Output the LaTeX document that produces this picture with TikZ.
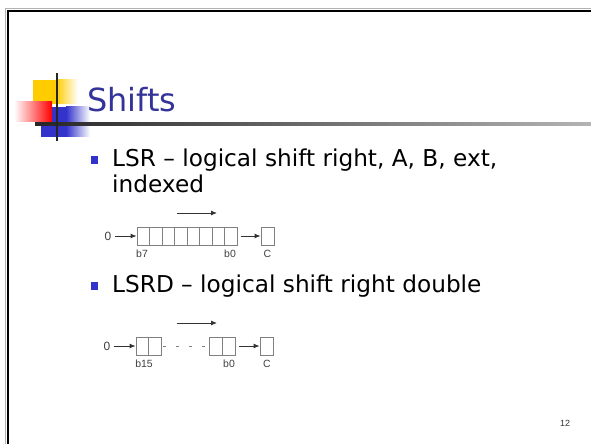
\documentclass[tikz,border=0pt]{standalone}
\usepackage{fontspec}
\setmainfont{DejaVu Sans}
\newfontfamily\smallsans{Liberation Sans}
\usetikzlibrary{arrows.meta}
\definecolor{titleblue}{HTML}{333399}
\definecolor{logoyellow}{HTML}{FFCC00}
\definecolor{logored}{HTML}{FF0000}
\definecolor{logoblue}{HTML}{3333CC}
\definecolor{boxgray}{HTML}{808080}
\tikzset{
  cellbox/.style={draw=boxgray, line width=0.9pt},
  sarrow/.style={-{Latex[length=6pt,width=5pt]}, line width=0.9pt, draw=black!80},
  blabel/.style={font=\smallsans\fontsize{10.5}{10.5}\selectfont, text=black!75, inner sep=0pt},
  zlabel/.style={font=\smallsans\fontsize{12}{12}\selectfont, text=black!75, inner sep=0pt},
  bodytext/.style={font=\fontsize{23.3}{28}\selectfont, anchor=base west, inner sep=0pt},
  bulletsq/.style={fill=logoblue, minimum size=8pt, inner sep=0pt}
}
\begin{document}
\begin{tikzpicture}[x=1bp,y=-1bp]
\useasboundingbox (0,0) rectangle (591,444);
\fill[white] (-10,-10) rectangle (610,460);
% frame
\draw[gray!60, line width=0.8pt] (5,460) -- (5,8.5) -- (610,8.5);
\draw[black, line width=2.6pt] (7.8,460) -- (7.8,11) -- (610,11);
% logo
\fill[logoyellow] (33,80) rectangle (56,104);
\shade[left color=logoyellow, right color=white] (56,80) rectangle (78,104);
\fill[logoblue] (41,107) rectangle (66,137);
\shade[left color=logoblue, right color=white] (66,107) rectangle (90,137);
\shade[left color=white, right color=logored] (14,102) rectangle (52,122);
\shade[left color=black!85, right color=gray!55] (35,123) rectangle (610,125.5);
\fill[black!85] (55.8,73) rectangle (58.3,141);
% title
\node[font=\fontsize{32}{32}\selectfont, text=titleblue, anchor=base west, inner sep=0pt] (title) at (87,112) {Shifts};
% bullets
\node[bulletsq] (b1) at (94.5,160) {};
\node[bodytext] (t1) at (112,167) {LSR – logical shift right, A, B, ext,};
\node[bodytext] (t1b) at (112,193) {indexed};
\node[bulletsq] (b2) at (94.5,286) {};
\node[bodytext] (t2) at (112,293) {LSRD – logical shift right double};
% diagram 1
\node[zlabel] (z1) at (108,236) {0};
\node[cellbox, minimum width=100bp, minimum height=18bp, inner sep=0pt] (reg1) at (187,236) {};
\foreach \i in {1,...,7} { \draw[boxgray, line width=0.9pt] (137+12.5*\i,227) -- (137+12.5*\i,245); }
\node[cellbox, minimum width=13bp, minimum height=18bp, inner sep=0pt] (c1) at (267.5,236) {};
\draw[sarrow] (z1.east) ++(3,0) -- (reg1.west);
\draw[sarrow] (reg1.east) ++(4,0) -- (c1.west);
\coordinate (ta1) at (177,213);
\coordinate (tb1) at (217,213);
\draw[sarrow] (ta1) -- (tb1);
\node[blabel] (lb7) at (142,254) {b7};
\node[blabel] (lb0) at (230,254) {b0};
\node[blabel] (lc1) at (267.5,254) {C};
% diagram 2
\node[zlabel] (z2) at (107,346) {0};
\node[cellbox, minimum width=25bp, minimum height=18bp, inner sep=0pt] (r2a) at (148.5,346) {};
\draw[boxgray, line width=0.9pt] (148.5,337) -- (148.5,355);
\node[cellbox, minimum width=26bp, minimum height=18bp, inner sep=0pt] (r2b) at (222,346) {};
\draw[boxgray, line width=0.9pt] (222,337) -- (222,355);
\draw[boxgray, line width=0.8pt, dash pattern=on 3pt off 10pt] (r2a.east) ++(2,0) -- (r2b.west);
\node[cellbox, minimum width=13bp, minimum height=18bp, inner sep=0pt] (c2) at (266.5,346) {};
\draw[sarrow] (z2.east) ++(3,0) -- (r2a.west);
\draw[sarrow] (r2b.east) ++(4,0) -- (c2.west);
\coordinate (ta2) at (177,323);
\coordinate (tb2) at (217,323);
\draw[sarrow] (ta2) -- (tb2);
\node[blabel] (lb15) at (144,364) {b15};
\node[blabel] (lb02) at (229,364) {b0};
\node[blabel] (lc2) at (267,364) {C};
% page number
\node[font=\smallsans\fontsize{9}{9}\selectfont, text=black!80, inner sep=0pt] (pg) at (565,423) {12};
\end{tikzpicture}
\end{document}
